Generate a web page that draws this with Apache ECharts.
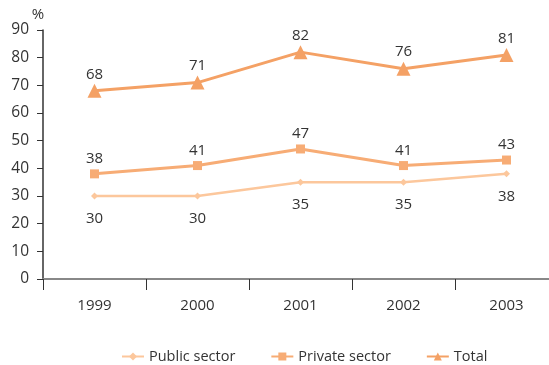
<!DOCTYPE html>
<html>
<head>
<meta charset="utf-8">
<script src="https://cdn.jsdelivr.net/npm/echarts@6/dist/echarts.min.js"></script>
<style>
  html, body { margin: 0; padding: 0; background: #fff; }
  #chart { width: 549px; height: 365px; }
</style>
</head>
<body>
<div id="chart"></div>
<script>
// Survey shares by year, in percent
const years = ['1999', '2000', '2001', '2002', '2003'];
const publicSector = [30, 30, 35, 35, 38];
const privateSector = [38, 41, 47, 41, 43];
const total = [68, 71, 82, 76, 81];

const FONT = '"Open Sans", "Noto Sans", sans-serif';
const TEXT = '#333';

function lineSeries(name, data, color, symbol, size, labelPos, dist, width) {
  return {
    name: name,
    type: 'line',
    data: data,
    symbol: symbol,
    symbolSize: size,
    showAllSymbol: true,
    lineStyle: { color: color, width: width },
    itemStyle: { color: color },
    label: {
      show: true,
      position: labelPos,
      distance: dist,
      color: TEXT,
      fontFamily: FONT,
      fontSize: 15
    },
    emphasis: { disabled: true },
    animation: false
  };
}

const chart = echarts.init(document.getElementById('chart'), null, { renderer: 'canvas' });
chart.setOption({
  animation: false,
  textStyle: { fontFamily: FONT },
  grid: { left: 43, width: 515, top: 30, bottom: 86, containLabel: false, outerBoundsMode: 'none' },
  legend: {
    bottom: -4,
    left: 116,
    itemGap: 35,
    itemWidth: 22,
    itemHeight: 10,
    textStyle: { color: TEXT, fontSize: 14.5, fontFamily: FONT },
    data: ['Public sector', 'Private sector', 'Total']
  },
  xAxis: {
    type: 'category',
    data: years,
    boundaryGap: true,
    axisLine: { lineStyle: { color: '#888', width: 2 } },
    axisTick: { show: true, length: 11, lineStyle: { color: '#333', width: 1 } },
    axisLabel: { color: TEXT, fontSize: 15, margin: 19, fontFamily: FONT },
    splitLine: { show: false }
  },
  yAxis: {
    type: 'value',
    min: 0,
    max: 90,
    interval: 10,
    name: '%',
    nameLocation: 'end',
    nameGap: 6,
    nameTextStyle: { color: TEXT, fontSize: 15, fontFamily: FONT, align: 'center', padding: [0, 0, 0, -10] },
    axisLine: { show: true, lineStyle: { color: '#333', width: 1.5 } },
    axisTick: { show: true, length: 6, lineStyle: { color: '#333' } },
    axisLabel: { color: TEXT, fontSize: 15.5, margin: 14, fontFamily: FONT },
    splitLine: { show: false }
  },
  series: [
    lineSeries('Public sector', publicSector, '#FCC79C', 'diamond', 7, 'bottom', 12, 2.5),
    lineSeries('Private sector', privateSector, '#F7AC75', 'rect', 9, 'top', 3, 3),
    lineSeries('Total', total, '#F4A165', 'triangle', 14, 'top', 2, 3)
  ]
});
</script>
</body>
</html>
